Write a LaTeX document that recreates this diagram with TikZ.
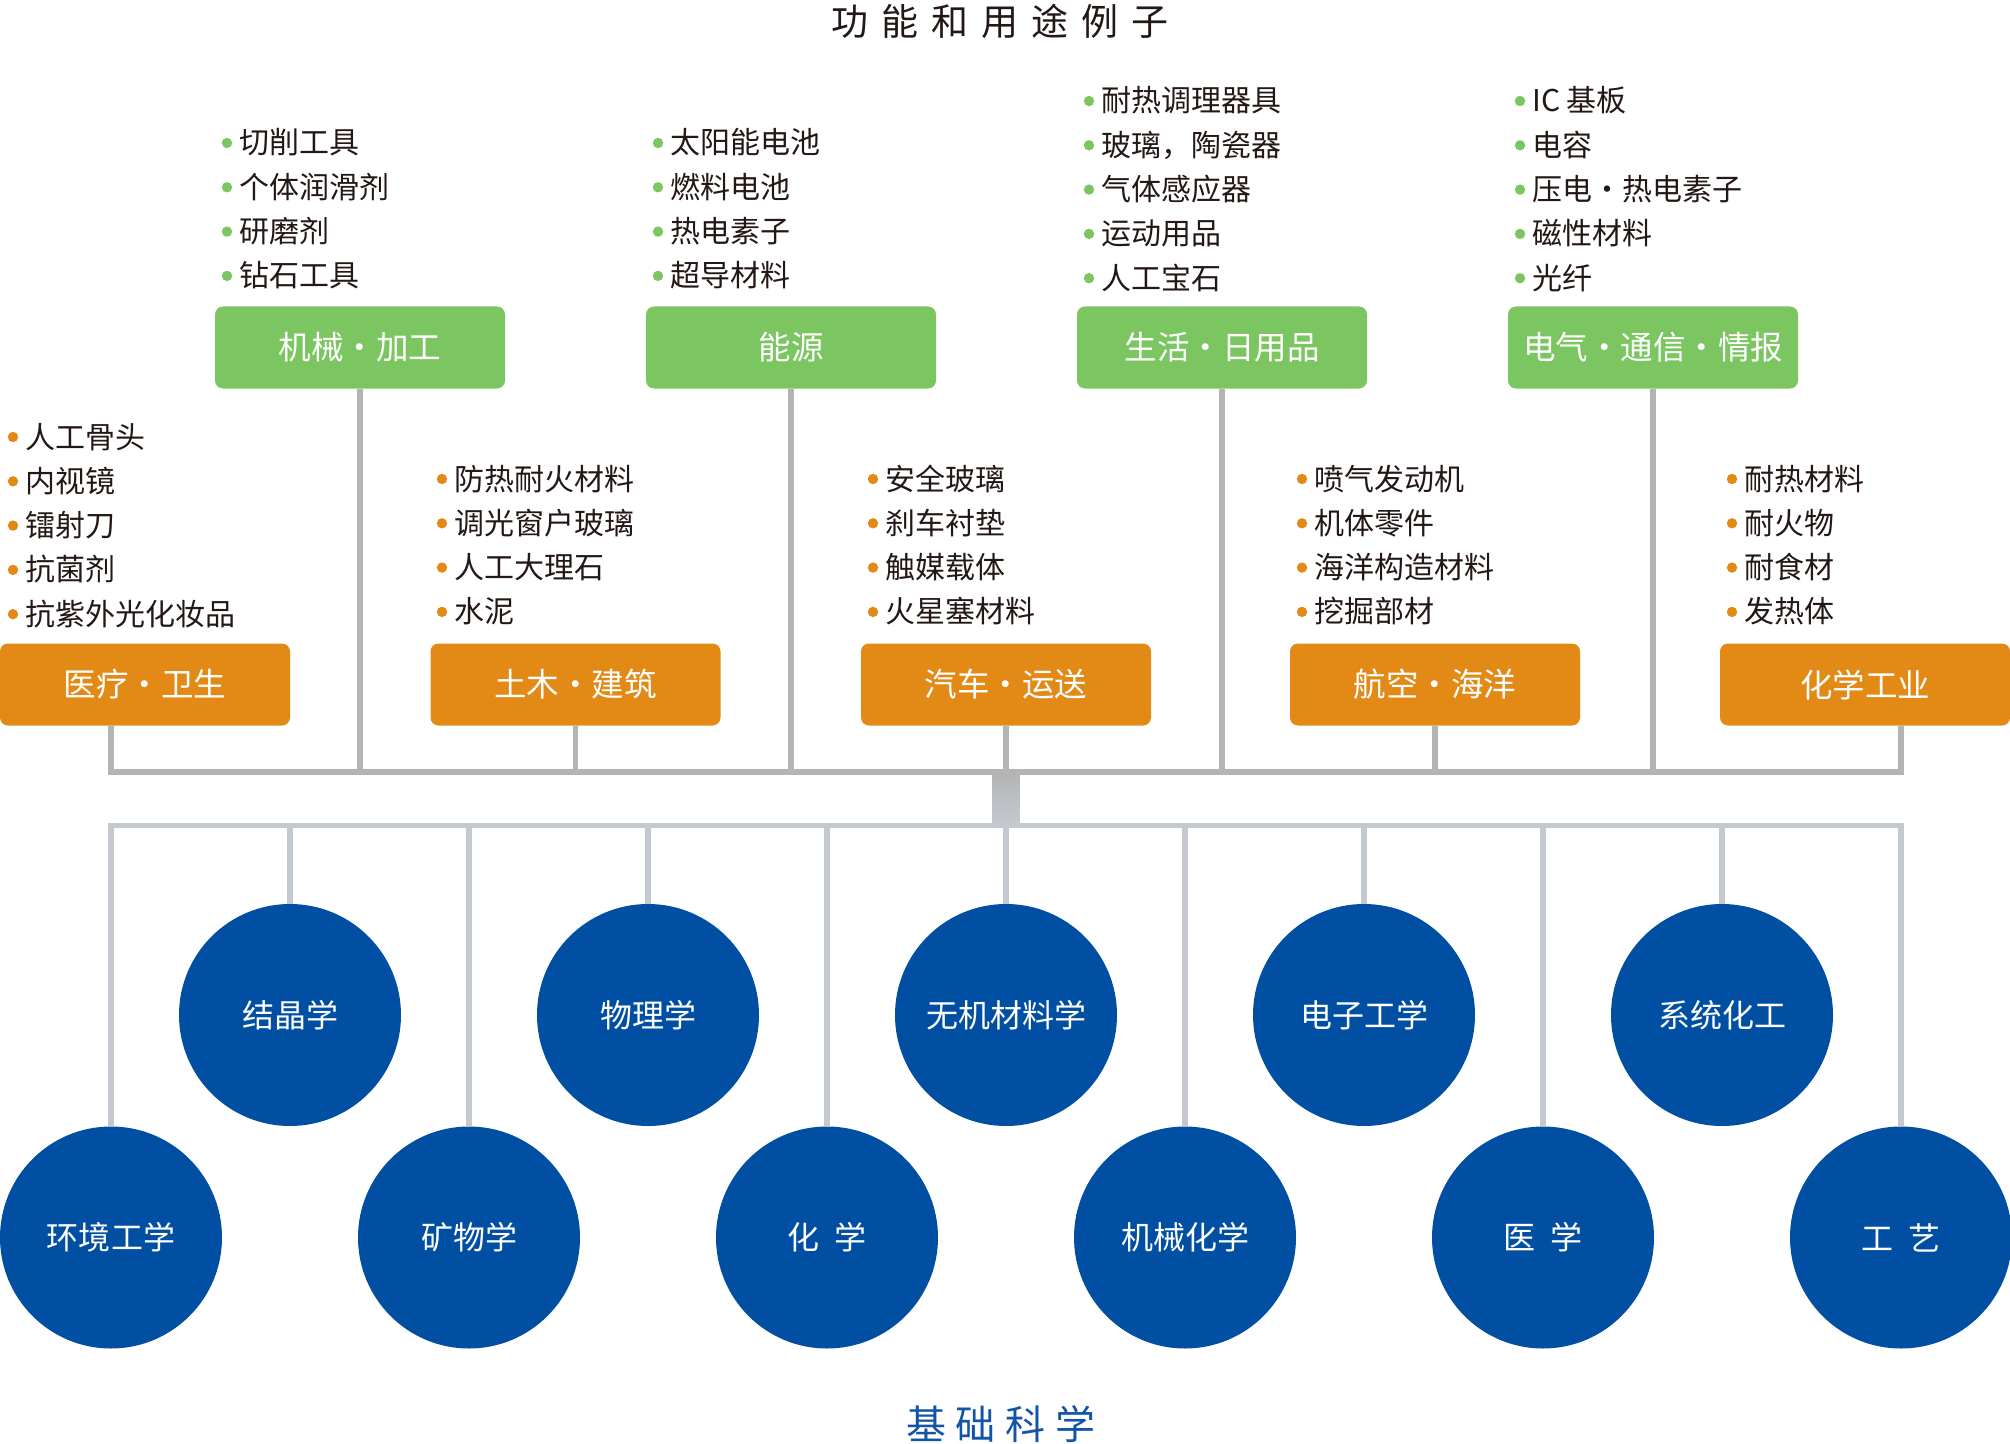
\documentclass[tikz,border=0pt]{standalone}
\usepackage{fontspec}
\setmainfont{Noto Sans CJK SC}
\usetikzlibrary{calc}
\definecolor{mygreen}{HTML}{7CC662}
\definecolor{myorange}{HTML}{E38A16}
\definecolor{myblue}{HTML}{004FA2}
\definecolor{titleblue}{HTML}{1255A6}
\definecolor{textblack}{HTML}{231815}
\definecolor{linegray}{HTML}{B4B4B5}
\definecolor{lineblue}{HTML}{C3C9CF}
\tikzset{
  itemtxt/.style={anchor=west, inner sep=0pt, text height=24bp, text depth=2bp,
    font=\fontsize{30bp}{31bp}\selectfont, text=textblack},
  gbox/.style={rectangle, rounded corners=8bp, fill=mygreen, minimum width=290bp,
    minimum height=82bp, inner sep=0pt, text=white, font=\fontsize{32.5bp}{34bp}\selectfont},
  obox/.style={gbox, fill=myorange},
  ball/.style={circle, fill=myblue, minimum size=222bp, inner sep=0pt, text=white,
    font=\fontsize{32bp}{34bp}\selectfont},
  topline/.style={draw=linegray, line width=5.5bp},
  botline/.style={draw=lineblue, line width=5.5bp},
}
\newcommand\blist[5]{%
  \foreach \t [count=\k] in {#5} {
    \fill[#2] (#3, {#4+44.3*(\k-1)}) circle (5.2);
    \node[itemtxt] (#1-\k) at (#3+12, {#4+44.3*(\k-1)}) {\t};
  }}
\begin{document}
\begin{tikzpicture}[x=1bp,y=-1bp]
\useasboundingbox (0,0) rectangle (2010,1444);
% titles
\node[inner sep=0pt, text=textblack, font=\fontsize{37bp}{40bp}\selectfont] (title) at (1000,21)
  {功\hspace{13bp}能\hspace{13bp}和\hspace{13bp}用\hspace{13bp}途\hspace{13bp}例\hspace{13bp}子};
\node[inner sep=0pt, text=titleblue, font=\fontsize{40bp}{42bp}\selectfont] (base) at (1001,1424)
  {基\hspace{10bp}础\hspace{10bp}科\hspace{10bp}学};
% boxes
\node[gbox] (g1) at (360,347.5) {机械・加工};
\node[gbox] (g2) at (791,347.5) {能源};
\node[gbox] (g3) at (1222,347.5) {生活・日用品};
\node[gbox] (g4) at (1653,347.5) {电气・通信・情报};
\node[obox] (o1) at (145,684.5) {医疗・卫生};
\node[obox] (o2) at (575.5,684.5) {土木・建筑};
\node[obox] (o3) at (1006,684.5) {汽车・运送};
\node[obox] (o4) at (1435,684.5) {航空・海洋};
\node[obox] (o5) at (1865,684.5) {化学工业};
% lists
\blist{l1}{mygreen}{227}{143}{切削工具,个体润滑剂,研磨剂,钻石工具}
\blist{l2}{mygreen}{658}{143}{太阳能电池,燃料电池,热电素子,超导材料}
\blist{l3}{mygreen}{1089}{101}{耐热调理器具,玻璃，陶瓷器,气体感应器,运动用品,人工宝石}
\blist{l4}{mygreen}{1520}{101}{IC 基板,电容,压电・热电素子,磁性材料,光纤}
\blist{l5}{myorange}{13}{437}{人工骨头,内视镜,镭射刀,抗菌剂,抗紫外光化妆品}
\blist{l6}{myorange}{442}{479}{防热耐火材料,调光窗户玻璃,人工大理石,水泥}
\blist{l7}{myorange}{873}{479}{安全玻璃,刹车衬垫,触媒载体,火星塞材料}
\blist{l8}{myorange}{1302}{479}{喷气发动机,机体零件,海洋构造材料,挖掘部材}
\blist{l9}{myorange}{1732}{479}{耐热材料,耐火物,耐食材,发热体}
% circles
\foreach \lab [count=\k] in {环境工学,结晶学,矿物学,物理学,化\hspace{0.45em}学,无机材料学,机械化学,电子工学,医\hspace{0.45em}学,系统化工,工\hspace{0.45em}艺} {
  \pgfmathsetmacro\cx{111+179*(\k-1)}
  \pgfmathsetmacro\cy{mod(\k,2)==1 ? 1237.5 : 1015}
  \node[ball] (c\k) at (\cx,\cy) {\lab};
}
% bars
\coordinate (tb) at (0,772);
\coordinate (bb) at (0,825.5);
\draw[topline] (o1.south -| c1.north) -- (tb -| c1.north) -- (tb -| c11.north) -- (o5.south -| c11.north);
\foreach \n in {g1,g2,g3,g4,o2,o3,o4} \draw[topline] (\n.south) -- (\n.south |- tb);
\draw[botline] (c1.north) -- (c1.north |- bb) -- (c11.north |- bb) -- (c11.north);
\foreach \k in {2,...,10} \draw[botline] (c\k.north) -- (c\k.north |- bb);
\shade[top color=linegray, bottom color=lineblue]
  ($(tb -| c6.north)+(-13.5,2.5)$) rectangle ($(bb -| c6.north)+(13.5,-2.5)$);
\end{tikzpicture}
\end{document}
